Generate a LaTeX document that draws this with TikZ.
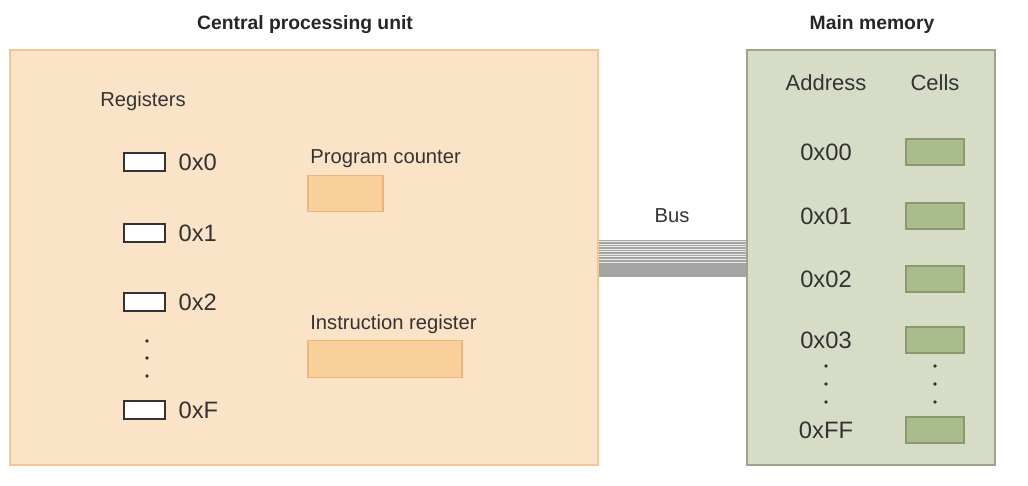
\documentclass[tikz,border=0pt]{standalone}
\usepackage{fontspec}
\setmainfont{Liberation Sans}
\usetikzlibrary{positioning}

\definecolor{cpufill}{HTML}{FBE3C7}
\definecolor{cpuline}{HTML}{F2C798}
\definecolor{pcfill}{HTML}{F9CF9C}
\definecolor{pcline}{HTML}{EDB676}
\definecolor{memfill}{HTML}{D6DCC5}
\definecolor{memline}{HTML}{9CA58B}
\definecolor{cellfill}{HTML}{AABC8E}
\definecolor{cellline}{HTML}{869A6A}
\definecolor{txt}{HTML}{333333}
\definecolor{busgray}{HTML}{A4A4A4}

\begin{document}
\begin{tikzpicture}[
    x=0.02cm, y=-0.02cm,
    title/.style={font=\fontsize{11}{13}\selectfont\bfseries, text=black!85},
    lbl/.style={font=\fontsize{11.5}{13}\selectfont, text=txt, inner sep=0pt},
    val/.style={font=\fontsize{13.5}{15}\selectfont, text=txt, inner sep=0pt},
    cpubox/.style={draw=cpuline, fill=cpufill, line width=0.8pt},
    membox/.style={draw=memline, fill=memfill, line width=0.9pt},
    regbox/.style={draw=txt, fill=white, line width=1.1pt, minimum width=0.82cm, minimum height=0.36cm, inner sep=0pt},
    pcbox/.style={draw=pcline, fill=pcfill, line width=0.6pt, minimum height=0.73cm, inner sep=0pt},
    cellbox/.style={draw=cellline, fill=cellfill, line width=0.7pt, minimum width=1.16cm, minimum height=0.52cm, inner sep=0pt},
    dot/.style={circle, fill=txt, inner sep=0pt, minimum size=2.2pt}
]
    \useasboundingbox (0,0) rectangle (1028,486);

    % Boxes
    \node[cpubox, minimum width=11.76cm, minimum height=8.3cm] (cpu) at (304,257.5) {};
    \node[membox, minimum width=4.96cm, minimum height=8.3cm] (mem) at (871,257.5) {};

    % Titles
    \node[title] (cputitle) at (305,25) {Central processing unit};
    \node[title] (memtitle) at (872,25) {Main memory};

    % Bus
    \fill[busgray] (cpu.east |- 0,240) rectangle (mem.west |- 0,277);
    \foreach \yy in {241.5, 244, 246.5, 249, 251.5, 254, 256.5, 259, 262}
        \draw[white!80!busgray, line width=0.35pt] (cpu.east |- 0,\yy) -- (mem.west |- 0,\yy);
    \node[lbl] (buslabel) at (672,216) {Bus};

    % Registers
    \node[lbl, anchor=west] (reglabel) at (100,101) {Registers};
    \foreach \name/\yy/\txt in {r0/162/0x0, r1/233/0x1, r2/302/0x2, rF/410/0xF} {
        \node[regbox] (\name) at (144.5,\yy) {};
        \node[val, right=7pt of \name] (\name val) {\txt};
    }
    \foreach \yy in {341, 358, 376}
        \node[dot] at (147,\yy) {};

    % Program counter and instruction register
    \node[lbl, anchor=west] (pclabel) at (310,159) {Program counter};
    \node[pcbox, minimum width=1.5cm] (pc) at (345.5,193.5) {};
    \node[lbl, anchor=west] (irlabel) at (310,324) {Instruction register};
    \node[pcbox, minimum width=3.08cm] (ir) at (385,359) {};

    % Memory
    \node[lbl, font=\fontsize{12.5}{14}\selectfont] (addrhead) at (826,83) {Address};
    \node[lbl, font=\fontsize{12.5}{14}\selectfont] (cellhead) at (935,83) {Cells};
    \foreach \name/\yy/\txt in {m0/152/0x00, m1/216/0x01, m2/279/0x02, m3/340/0x03, mF/430/0xFF} {
        \node[val] (\name addr) at (826,\yy) {\txt};
        \node[cellbox] (\name) at (935,\yy) {};
    }
    \foreach \yy in {366, 384, 402} {
        \node[dot] at (826,\yy) {};
        \node[dot] at (935,\yy) {};
    }
\end{tikzpicture}
\end{document}
